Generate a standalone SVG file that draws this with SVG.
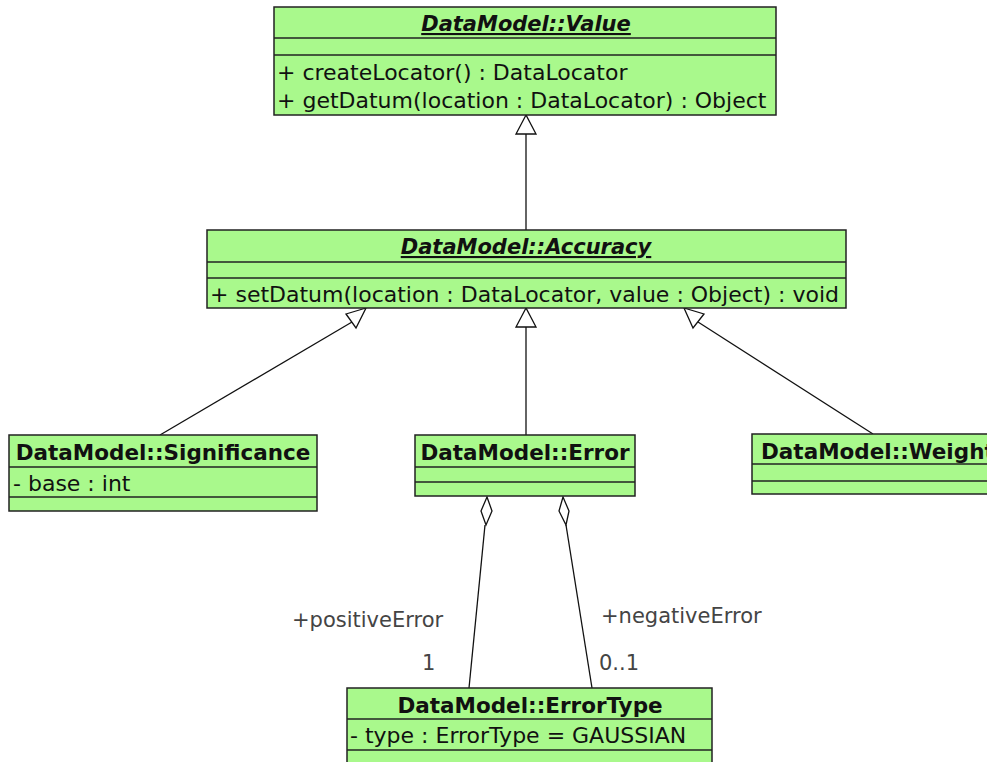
<svg xmlns="http://www.w3.org/2000/svg" width="987" height="762" viewBox="0 0 987 762">
<style>
.box{fill:#a9f98c;stroke:#222;stroke-width:1.5}
.sep{stroke:#222;stroke-width:1.5}
.t{font-family:"DejaVu Sans",sans-serif;font-size:22px;fill:#111}
.tb{font-family:"DejaVu Sans",sans-serif;font-size:21.5px;font-weight:bold;fill:#111}
.ti{font-family:"DejaVu Sans",sans-serif;font-size:21px;font-weight:bold;font-style:italic;text-decoration:underline;fill:#111}
.lbl{font-family:"DejaVu Sans",sans-serif;font-size:21px;fill:#444}
.ln{stroke:#111;stroke-width:1.3;fill:none}
.tri{fill:#fff;stroke:#111;stroke-width:1.3}
</style>
<rect width="987" height="762" fill="#fff"/>
<g id="connectors">
  <line class="ln" x1="526" y1="230" x2="526" y2="134"/>
  <polygon class="tri" points="526,115 516,134 536,134"/>
  <line class="ln" x1="160" y1="435" x2="352" y2="322"/>
  <polygon class="tri" points="366,308 346,314 356,328" />
  <line class="ln" x1="526" y1="435" x2="526" y2="327"/>
  <polygon class="tri" points="526,308 516,327 536,327"/>
  <line class="ln" x1="873" y1="434" x2="698" y2="322"/>
  <polygon class="tri" points="684,308 693,328 704,314"/>
  <line class="ln" x1="485" y1="525" x2="469" y2="688"/>
  <polygon class="tri" points="487,497 492,511 486,525 481,511"/>
  <line class="ln" x1="566" y1="525" x2="592" y2="688"/>
  <polygon class="tri" points="563,497 569,511 566,525 559,511"/>
  <text class="lbl" x="292" y="627">+positiveError</text>
  <text class="lbl" x="422" y="670">1</text>
  <text class="lbl" x="601" y="623">+negativeError</text>
  <text class="lbl" x="599" y="670">0..1</text>
</g>
<g id="value">
  <rect class="box" x="274" y="7" width="502" height="108"/>
  <line class="sep" x1="274" y1="38" x2="776" y2="38"/>
  <line class="sep" x1="274" y1="55" x2="776" y2="55"/>
  <text class="ti" x="526" y="31" text-anchor="middle">DataModel::Value</text>
  <text class="t" x="277" y="80">+ createLocator() : DataLocator</text>
  <text class="t" x="277" y="108">+ getDatum(location : DataLocator) : Object</text>
</g>
<g id="accuracy">
  <rect class="box" x="207" y="230" width="639" height="78"/>
  <line class="sep" x1="207" y1="262" x2="846" y2="262"/>
  <line class="sep" x1="207" y1="278" x2="846" y2="278"/>
  <text class="ti" x="526" y="254" text-anchor="middle">DataModel::Accuracy</text>
  <text class="t" x="210" y="302">+ setDatum(location : DataLocator, value : Object) : void</text>
</g>
<g id="significance">
  <rect class="box" x="9" y="435" width="308" height="76"/>
  <line class="sep" x1="9" y1="467" x2="317" y2="467"/>
  <line class="sep" x1="9" y1="497" x2="317" y2="497"/>
  <text class="tb" x="163" y="460" text-anchor="middle">DataModel::Significance</text>
  <text class="t" x="13" y="491">- base : int</text>
</g>
<g id="error">
  <rect class="box" x="415" y="435" width="220" height="61"/>
  <line class="sep" x1="415" y1="467" x2="635" y2="467"/>
  <line class="sep" x1="415" y1="482" x2="635" y2="482"/>
  <text class="tb" x="525" y="460" text-anchor="middle">DataModel::Error</text>
</g>
<g id="weight">
  <rect class="box" x="752" y="434" width="250" height="60"/>
  <line class="sep" x1="752" y1="464" x2="1002" y2="464"/>
  <line class="sep" x1="752" y1="481" x2="1002" y2="481"/>
  <text class="tb" x="761" y="459">DataModel::Weight</text>
</g>
<g id="errortype">
  <rect class="box" x="347" y="688" width="365" height="80"/>
  <line class="sep" x1="347" y1="719" x2="712" y2="719"/>
  <line class="sep" x1="347" y1="750" x2="712" y2="750"/>
  <text class="tb" x="530" y="713" text-anchor="middle">DataModel::ErrorType</text>
  <text class="t" x="350" y="743">- type : ErrorType = GAUSSIAN</text>
</g>
</svg>
